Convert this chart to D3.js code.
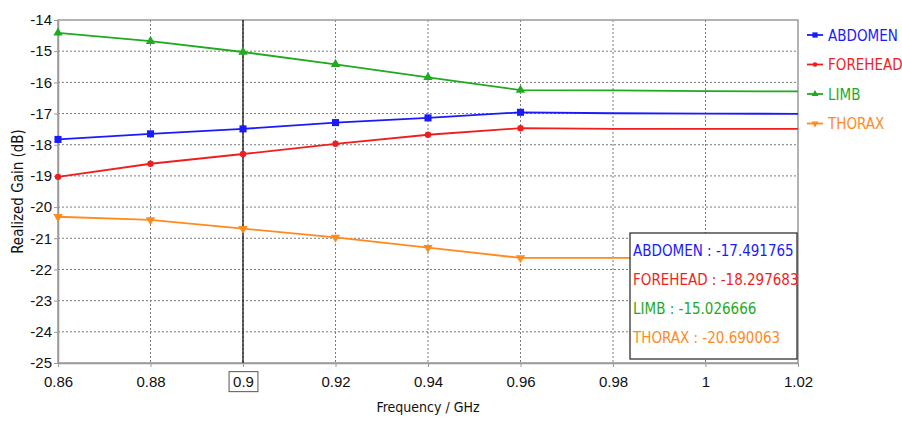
<!DOCTYPE html>
<html><head><meta charset="utf-8">
<script src="https://cdn.jsdelivr.net/npm/d3@7"></script>
<style>
body{margin:0;background:#fff;}
svg{display:block;font-family:"DejaVu Sans Condensed","Liberation Sans Narrow",sans-serif;}
</style></head><body>
<svg id="c" width="902" height="421"></svg>
<script>
const freqs = [0.86, 0.88, 0.90, 0.92, 0.94, 0.96, 0.98, 1.00, 1.02];
const markerCount = 6;
const abdomen  = [-17.83, -17.65, -17.491765, -17.29, -17.14, -16.96, -16.99, -17.00, -17.01];
const forehead = [-19.03, -18.61, -18.297683, -17.97, -17.68, -17.47, -17.49, -17.49, -17.49];
const limb     = [-14.41, -14.68, -15.026666, -15.42, -15.84, -16.25, -16.26, -16.28, -16.29];
const thorax   = [-20.31, -20.41, -20.690063, -20.97, -21.30, -21.63, -21.63, -21.63, -21.63];
const seriesNames = ["ABDOMEN", "FOREHEAD", "LIMB", "THORAX"];
const seriesColors = ["#1a1aff", "#f01e1e", "#1faa1f", "#ff8a1e"];
const markerShapes = ["square", "circle", "triangle", "triangleDown"];
const xTicks = [0.86, 0.88, 0.9, 0.92, 0.94, 0.96, 0.98, 1, 1.02];
const yTicks = [-25, -24, -23, -22, -21, -20, -19, -18, -17, -16, -15, -14];
const cursorX = 0.9;
const cursorLabels = ["-17.491765", "-18.297683", "-15.026666", "-20.690063"];
const xTitle = "Frequency / GHz";
const yTitle = "Realized Gain (dB)";

const allValues = [abdomen, forehead, limb, thorax];
const svg = d3.select("#c");
const L = 58, R = 798, T = 20, B = 363;
const x = d3.scaleLinear().domain([0.86, 1.02]).range([L, R]);
const y = d3.scaleLinear().domain([-25, -14]).range([B, T]);
const fs = 15;

// grid
const g = svg.append("g");
g.selectAll(".hg").data(yTicks.slice(1, -1)).join("line")
  .attr("x1", L).attr("x2", R).attr("y1", d => y(d)).attr("y2", d => y(d))
  .attr("stroke", "#7a7a7a").attr("stroke-width", 1).attr("stroke-dasharray", "2,2");
g.selectAll(".vg").data(xTicks.slice(1, -1)).join("line")
  .attr("y1", T).attr("y2", B).attr("x1", d => x(d)).attr("x2", d => x(d))
  .attr("stroke", "#7a7a7a").attr("stroke-width", 1).attr("stroke-dasharray", "2,2");

// frame
svg.append("rect").attr("x", L).attr("y", T).attr("width", R - L).attr("height", B - T)
  .attr("fill", "none").attr("stroke", "#9a9a9a").attr("stroke-width", 1.5);

// axes
const xAxis = svg.append("g").attr("transform", `translate(0,${B})`)
  .call(d3.axisBottom(x).tickValues(xTicks).tickSize(4).tickSizeOuter(0).tickPadding(9).tickFormat(d => d3.format("")(+d.toFixed(2))));
xAxis.select(".domain").attr("stroke", "#9a9a9a").attr("stroke-width", 1.5);
xAxis.selectAll(".tick line").attr("stroke", "#9a9a9a");
xAxis.selectAll("text").attr("font-size", fs).attr("fill", "#111").attr("font-family", "inherit");

const yAxis = svg.append("g").attr("transform", `translate(${L},0)`)
  .call(d3.axisLeft(y).tickValues(yTicks).tickSize(4).tickSizeOuter(0).tickPadding(2).tickFormat(d => String(d)));
yAxis.select(".domain").attr("stroke", "#9a9a9a").attr("stroke-width", 1.5);
yAxis.selectAll(".tick line").attr("stroke", "#9a9a9a");
yAxis.selectAll("text").attr("font-size", fs).attr("fill", "#111").attr("font-family", "inherit");

// box around cursor tick label
xAxis.selectAll(".tick").filter(d => Math.abs(d - cursorX) < 1e-9).each(function () {
  const t = d3.select(this).select("text").node().getBBox();
  d3.select(this).insert("rect", "text").attr("x", t.x - 4).attr("y", t.y - 1)
    .attr("width", t.width + 8).attr("height", t.height + 3)
    .attr("fill", "#fff").attr("stroke", "#555").attr("stroke-width", 1);
});

// titles
svg.append("text").attr("x", (L + R) / 2).attr("y", 412).attr("text-anchor", "middle")
  .attr("font-size", fs - 1).attr("fill", "#111").text(xTitle);
svg.append("text").attr("transform", `translate(23,${(T + B) / 2}) rotate(-90)`).attr("text-anchor", "middle")
  .attr("font-size", fs).attr("fill", "#111").text(yTitle);

// cursor line
svg.append("line").attr("x1", x(cursorX)).attr("x2", x(cursorX)).attr("y1", T).attr("y2", B)
  .attr("stroke", "#000").attr("stroke-width", 1.2);

// series
const line = d3.line().x((d, i) => x(freqs[i])).y(d => y(d));
function marker(sel, shape, color, scale) {
  const sym = { square: d3.symbolSquare, circle: d3.symbolCircle, triangle: d3.symbolTriangle, triangleDown: d3.symbolTriangle }[shape];
  const size = { square: 50, circle: 32, triangle: 38, triangleDown: 38 }[shape] * (scale || 1);
  sel.attr("d", d3.symbol().type(sym).size(size)).attr("fill", color);
  if (shape === "triangleDown") sel.attr("transform", function () { return d3.select(this).attr("transform") + " rotate(180)"; });
}
allValues.forEach((vals, si) => {
  svg.append("path").datum(vals).attr("d", line).attr("fill", "none")
    .attr("stroke", seriesColors[si]).attr("stroke-width", 1.8);
  svg.selectAll(null).data(vals.slice(0, markerCount)).join("path")
    .attr("transform", (d, i) => `translate(${x(freqs[i])},${y(d)})`)
    .call(marker, markerShapes[si], seriesColors[si]);
});

// legend
const lg = svg.append("g");
seriesNames.forEach((n, i) => {
  const yy = 35 + i * 29.5;
  lg.append("line").attr("x1", 807).attr("x2", 823).attr("y1", yy).attr("y2", yy)
    .attr("stroke", seriesColors[i]).attr("stroke-width", 1.8);
  lg.append("path").attr("transform", `translate(815,${yy})`).call(marker, markerShapes[i], seriesColors[i], 0.55);
  lg.append("text").attr("x", 828).attr("y", yy + 5.5).attr("font-size", fs).attr("fill", seriesColors[i]).text(n);
});

// cursor tooltip
const tb = svg.append("g");
tb.append("rect").attr("x", 630).attr("y", 233).attr("width", 167).attr("height", 126)
  .attr("fill", "#fff").attr("stroke", "#222").attr("stroke-width", 1.2);
seriesNames.forEach((n, i) => {
  tb.append("text").attr("x", 633).attr("y", 256 + i * 29).attr("font-size", fs)
    .attr("fill", seriesColors[i]).text(`${n} : ${cursorLabels[i]}`);
});
</script></body></html>
